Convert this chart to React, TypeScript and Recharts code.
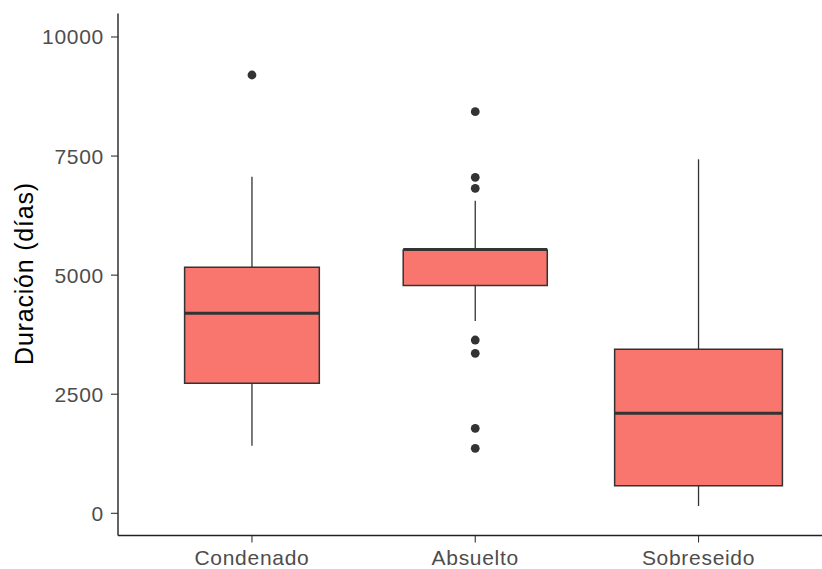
import React from "react";
import {
  ComposedChart,
  XAxis,
  YAxis,
  Scatter,
  ReferenceArea,
  ReferenceLine,
  Label,
} from "recharts";

// Case outcomes and their duration summaries (days)
const CATEGORIES = ["Condenado", "Absuelto", "Sobreseido"];
const WHISKER_LOW = [1419, 4037, 153];
const Q1 = [2729, 4780, 579];
const MEDIAN = [4199, 5540, 2100];
const Q3 = [5165, 5528, 3443];
const WHISKER_HIGH = [7067, 6563, 7432];
const OUTLIERS: number[][] = [
  [9202],
  [8432, 7054, 6823, 3638, 3359, 1785, 1365],
  [],
];
const Y_TICKS = [0, 2500, 5000, 7500, 10000];

// Box half-widths (category units), boxes scaled by group size
const HALF_WIDTHS = [0.3017, 0.3226, 0.3757];

const FILL = "#F8766D";
const INK = "#333333";
const FONT = "'Liberation Sans', Arial, sans-serif";

const outlierPoints = OUTLIERS.flatMap((vals, i) =>
  vals.map((v) => ({ x: i + 1, y: v }))
);

const Dot = (props: any) => {
  const { cx, cy } = props;
  if (cx == null || cy == null) return null;
  return <circle cx={cx} cy={cy} r={4.4} fill={INK} />;
};

const tickStyle = {
  fill: "#4D4D4D",
  fontSize: 21,
  fontFamily: FONT,
  letterSpacing: 0.7,
};

export default function App() {
  return (
    <div style={{ position: "absolute", left: 0, top: 0, background: "#fff" }}>
      <ComposedChart
        width={822}
        height={569}
        margin={{ top: 13.5, right: 0, bottom: 0, left: 0 }}
        data={outlierPoints}
      >
        <XAxis
          dataKey="x"
          type="number"
          domain={[0.4, 3.553]}
          ticks={[1, 2, 3]}
          interval={0}
          allowDataOverflow
          height={33.5}
          tickSize={7}
          tickMargin={7.5}
          tickFormatter={(v: number) => CATEGORIES[v - 1] ?? ""}
          axisLine={{ stroke: "#222", strokeWidth: 1.4 }}
          tickLine={{ stroke: INK, strokeWidth: 1.1 }}
          tick={tickStyle}
        />
        <YAxis
          dataKey="y"
          type="number"
          domain={[-466, 10493]}
          ticks={Y_TICKS}
          interval={0}
          allowDataOverflow
          width={118}
          tickSize={7}
          tickMargin={7}
          axisLine={{ stroke: "#222", strokeWidth: 1.4 }}
          tickLine={{ stroke: INK, strokeWidth: 1.1 }}
          tick={tickStyle}
        >
          <Label
            content={(p: any) => {
              const vb = p.viewBox || { x: 0, y: 13.5, height: 522 };
              const cx = vb.x + 24;
              const cy = vb.y + vb.height / 2 - 1;
              return (
                <text
                  x={cx}
                  y={cy}
                  transform={`rotate(-90 ${cx} ${cy})`}
                  textAnchor="middle"
                  dominantBaseline="central"
                  fill="#000"
                  fontSize={25}
                  letterSpacing={0.8}
                  fontFamily={FONT}
                >
                  Duración (días)
                </text>
              );
            }}
          />
        </YAxis>

        {CATEGORIES.map((c, i) => (
          <ReferenceLine
            key={`wl-${c}`}
            segment={[
              { x: i + 1, y: WHISKER_LOW[i] },
              { x: i + 1, y: Q1[i] },
            ]}
            stroke={INK}
            strokeWidth={1.3}
            ifOverflow="visible"
          />
        ))}
        {CATEGORIES.map((c, i) => (
          <ReferenceLine
            key={`wh-${c}`}
            segment={[
              { x: i + 1, y: Math.max(Q3[i], MEDIAN[i]) },
              { x: i + 1, y: WHISKER_HIGH[i] },
            ]}
            stroke={INK}
            strokeWidth={1.3}
            ifOverflow="visible"
          />
        ))}
        {CATEGORIES.map((c, i) => (
          <ReferenceArea
            key={`box-${c}`}
            x1={i + 1 - HALF_WIDTHS[i]}
            x2={i + 1 + HALF_WIDTHS[i]}
            y1={Q1[i]}
            y2={Q3[i]}
            fill={FILL}
            fillOpacity={1}
            stroke={INK}
            strokeWidth={1.5}
            ifOverflow="visible"
          />
        ))}
        {CATEGORIES.map((c, i) => (
          <ReferenceLine
            key={`med-${c}`}
            segment={[
              { x: i + 1 - HALF_WIDTHS[i], y: MEDIAN[i] },
              { x: i + 1 + HALF_WIDTHS[i], y: MEDIAN[i] },
            ]}
            stroke={INK}
            strokeWidth={3}
            ifOverflow="visible"
          />
        ))}
        <Scatter
          data={outlierPoints}
          dataKey="y"
          shape={<Dot />}
          isAnimationActive={false}
        />
      </ComposedChart>
    </div>
  );
}
